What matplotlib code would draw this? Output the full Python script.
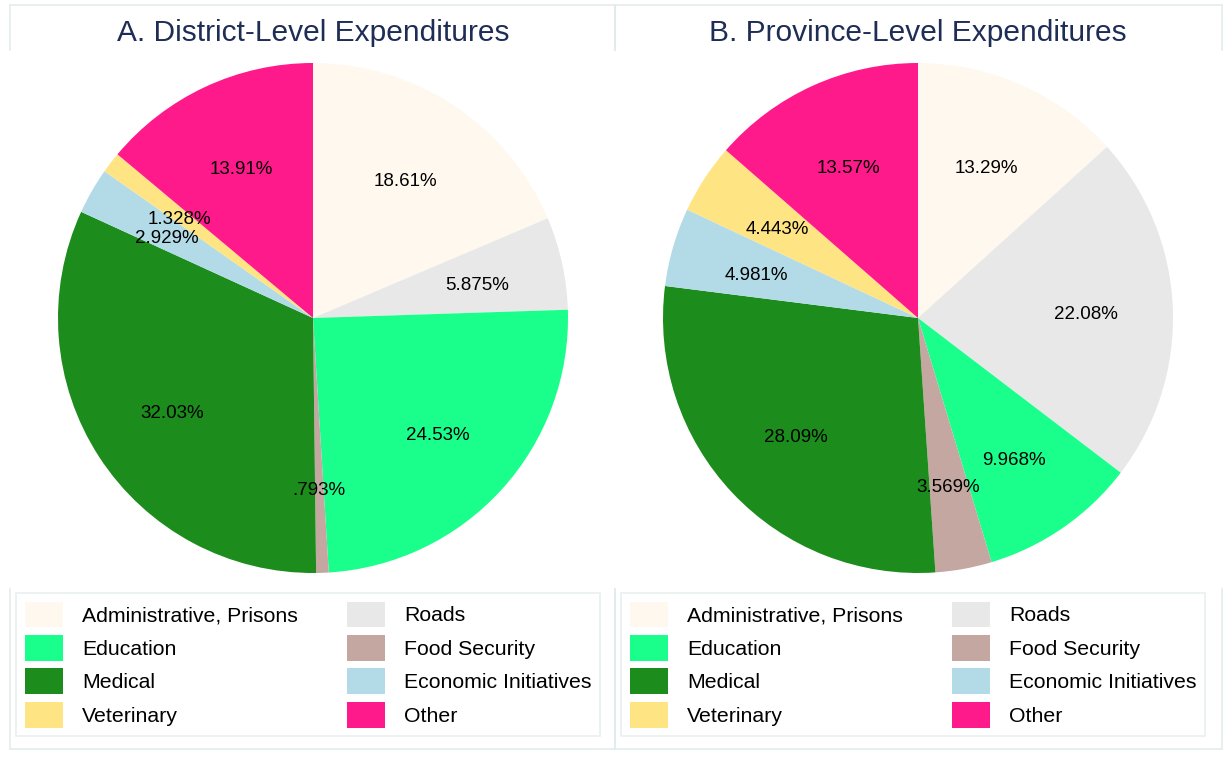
import matplotlib.pyplot as plt
from matplotlib.patches import Patch
from matplotlib.lines import Line2D
from matplotlib.transforms import ScaledTranslation

plt.rcParams['font.family'] = ['Liberation Sans', 'DejaVu Sans']

W, H = 1225, 759

categories = ["Administrative, Prisons", "Roads", "Education", "Food Security",
              "Medical", "Economic Initiatives", "Veterinary", "Other"]
colors = ["#fff8ef", "#e8e8e8", "#1aff8c", "#c4a7a1",
          "#1c8c1c", "#b3dbe7", "#ffe484", "#ff1a8c"]

district = [18.61, 5.875, 24.53, 0.793, 32.03, 2.929, 1.328, 13.91]
province = [13.29, 22.08, 9.968, 3.569, 28.09, 4.981, 4.443, 13.57]

titles = ["A. District-Level Expenditures", "B. Province-Level Expenditures"]

frame_col = "#e3ecec"
title_col = "#1e2d55"


def fmt(v):
    # Stata style %9.4g, leading zero dropped
    s = f"{v:.4g}"
    if s.startswith("0."):
        s = s[1:]
    return s + "%"


def px_axes(fig, x, y, w, h):
    return fig.add_axes([x / W, 1 - (y + h) / H, w / W, h / H])


fig = plt.figure(figsize=(W / 100, H / 100), dpi=100)

panels = [(10, 615, 313, district), (615, 1222, 918, province)]

for (x0, x1, cx, vals), title in zip(panels, titles):
    # panel frame pieces (title band + legend band)
    segs = [((x0, x1), (5, 5)), ((x0, x0), (5, 50)), ((x1, x1), (5, 50)),
            ((x0, x0), (589, 749)), ((x1, x1), (589, 749)), ((x0, x1), (749, 749))]
    for xs, ys in segs:
        fig.add_artist(Line2D([v / W for v in xs], [1 - v / H for v in ys],
                              color=frame_col, lw=1.2))

    fig.text(cx / W, 1 - 33 / H, title, ha='center', va='center',
             fontsize=21.5, color=title_col)

    r = 255
    ax = px_axes(fig, cx - r, 318 - r, 2 * r, 2 * r)
    wedges, texts, autotexts = ax.pie(vals, colors=colors, startangle=90,
                                      counterclock=False, radius=1,
                                      autopct=lambda p: '', pctdistance=0.66,
                                      wedgeprops=dict(linewidth=0))
    shift = ScaledTranslation(0, -4 / 100, fig.dpi_scale_trans)
    for t, v in zip(autotexts, vals):
        t.set_text(fmt(v))
        t.set_fontsize(13.5)
        t.set_color('black')
        t.set_transform(ax.transData + shift)
    ax.set_xlim(-1, 1)
    ax.set_ylim(-1, 1)
    ax.set_aspect('equal')
    ax.axis('off')

    # legend, row-major like Stata -> reorder for column-major fill
    handles = [Patch(facecolor=c, edgecolor='none') for c in colors]
    order = [0, 2, 4, 6, 1, 3, 5, 7]
    leg = fig.legend([handles[i] for i in order], [categories[i] for i in order],
                     ncol=2, loc='upper left',
                     bbox_to_anchor=((x0 + 6) / W, 1 - 593 / H),
                     bbox_transform=fig.transFigure, borderaxespad=0,
                     fontsize=15.3, handlelength=1.8, handleheight=1.5,
                     handletextpad=0.9, columnspacing=2.3, labelspacing=0.35,
                     borderpad=0.4, fancybox=False, frameon=True)
    leg.get_frame().set_edgecolor(frame_col)
    leg.get_frame().set_linewidth(1.2)

fig.savefig("out.png", dpi=100, facecolor='white')
